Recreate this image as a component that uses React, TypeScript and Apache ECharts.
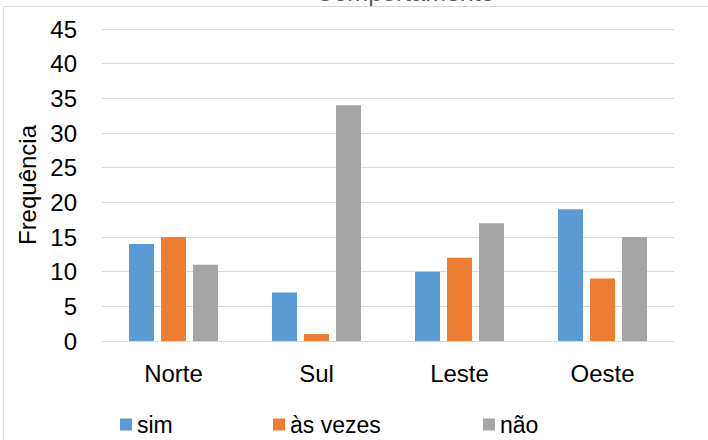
import React, { useEffect, useRef } from "react";
import * as echarts from "echarts";

const categories = ["Norte", "Sul", "Leste", "Oeste"];
const simValues = [14, 7, 10, 19];
const asVezesValues = [15, 1, 12, 9];
const naoValues = [11, 34, 17, 15];
const seriesNames = ["sim", "às vezes", "não"];
const colors = ["#5b9bd5", "#ed7d31", "#a5a5a5"];
const titleText = "Comportamento";
const yAxisName = "Frequência";

export default function App() {
  const ref = useRef<HTMLDivElement>(null);
  useEffect(() => {
    if (!ref.current) return;
    const chart = echarts.init(ref.current, null, { renderer: "svg" });
    const font = "'Liberation Sans', Arial, sans-serif";
    const legendLefts = [120, 273, 483];
    const mkLegend = (i: number) => ({
      show: true,
      left: legendLefts[i],
      top: 413,
      icon: "rect",
      itemWidth: 12,
      itemHeight: 12,
      itemGap: 5,
      padding: 0,
      data: [seriesNames[i]],
      textStyle: { fontSize: 23, color: "#000", fontFamily: font, lineHeight: 22 },
    });
    const mkSeries = (i: number, data: number[]) => ({
      name: seriesNames[i],
      type: "bar",
      data,
      barWidth: 25,
      barGap: "28%",
      itemStyle: { color: colors[i] },
    });
    chart.setOption({
      animation: false,
      textStyle: { fontFamily: font },
      grid: { left: 102, right: 34, top: 29, bottom: 99, containLabel: false },
      graphic: [
        {
          type: "rect",
          shape: { x: 3.5, y: 6.5, width: 760, height: 480 },
          style: { fill: "none", stroke: "#d9d9d9", lineWidth: 1 },
          silent: true,
        },
        {
          type: "text",
          x: 405,
          y: 4,
          style: {
            text: titleText,
            fontSize: 25,
            fontFamily: font,
            fill: "#595959",
            align: "center",
            verticalAlign: "bottom",
          },
          silent: true,
        },
      ],
      legend: [mkLegend(0), mkLegend(1), mkLegend(2)],
      xAxis: {
        type: "category",
        data: categories,
        axisLine: { lineStyle: { color: "#d9d9d9", width: 1 } },
        axisTick: { show: false },
        axisLabel: { fontSize: 24, color: "#000", margin: 20, fontFamily: font },
      },
      yAxis: {
        type: "value",
        min: 0,
        max: 45,
        interval: 5,
        name: yAxisName,
        nameLocation: "middle",
        nameGap: 63,
        nameTextStyle: { fontSize: 24, color: "#000", fontFamily: font },
        axisLine: { show: false },
        axisTick: { show: false },
        axisLabel: { fontSize: 24, color: "#000", margin: 25, fontFamily: font },
        splitLine: { lineStyle: { color: "#d9d9d9", width: 1 } },
      },
      series: [mkSeries(0, simValues), mkSeries(1, asVezesValues), mkSeries(2, naoValues)],
    });
    return () => chart.dispose();
  }, []);
  return (
    <div
      ref={ref}
      style={{ width: 708, height: 440, position: "absolute", left: 0, top: 0 }}
    />
  );
}
